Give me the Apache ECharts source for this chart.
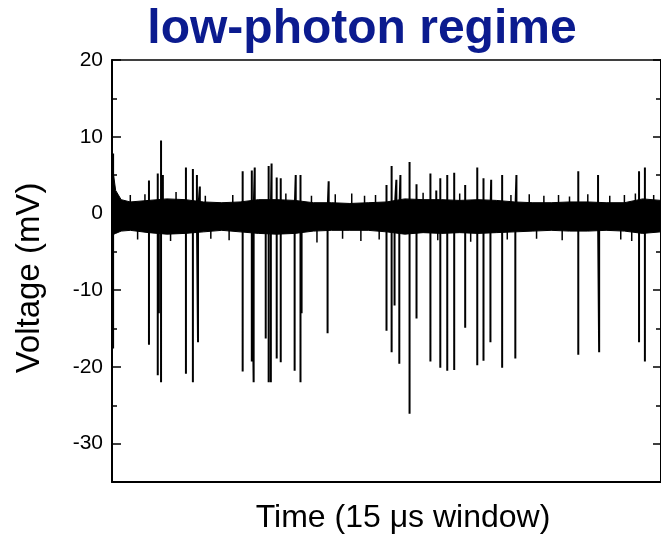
<!DOCTYPE html>
<html>
<head>
<meta charset="utf-8">
<script src="https://cdn.jsdelivr.net/npm/echarts@6/dist/echarts.min.js"></script>
<style>
html,body{margin:0;padding:0;background:#fff;}
#chart{width:661px;height:535px;}
</style>
</head>
<body>
<div id="chart"></div>
<script>
// ---- data (time in µs, voltage in mV) ----
const titleText = 'low-photon regime';
const xLabel = 'Time (15 \u03bcs window)';
const yLabel = 'Voltage (mV)';
const yMajorTicks = [-30, -20, -10, 0, 10, 20];
const yMinorTicks = [-25, -15, -5, 5, 15];

// noise band envelope
const envT  = [0, 0.1, 0.25, 0.5, 1.0, 1.5, 2.0, 2.5, 3.0, 3.5, 4.0, 4.5, 5.0, 5.5, 6.0, 6.5, 7.0, 7.5, 8.0, 8.5, 9.0, 9.5, 10.0, 10.5, 11.0, 11.5, 12.0, 12.5, 13.0, 13.5, 14.0, 14.5, 15.0];
const envUp = [6.5, 3.0, 1.8, 1.5, 1.7, 1.9, 1.8, 1.5, 1.4, 1.5, 1.8, 1.8, 1.7, 1.4, 1.4, 1.3, 1.4, 1.5, 1.9, 1.8, 1.8, 1.7, 1.8, 1.7, 1.5, 1.4, 1.4, 1.5, 1.5, 1.4, 1.4, 1.9, 1.7];
const envLo = [-2.8, -2.6, -2.3, -2.2, -2.5, -2.7, -2.6, -2.4, -2.2, -2.4, -2.6, -2.7, -2.6, -2.3, -2.2, -2.2, -2.2, -2.4, -2.7, -2.5, -2.6, -2.5, -2.6, -2.5, -2.4, -2.3, -2.2, -2.3, -2.3, -2.2, -2.3, -2.6, -2.4];

// small blips on the band edges
const blipT = [0.5, 0.9, 1.75, 2.55, 3.3, 4.75, 5.45, 6.1, 6.55, 6.9, 7.2, 8.5, 9.5, 10.9, 11.4, 11.8, 12.2, 12.5, 13.0, 13.6, 14.0, 14.3, 14.8];
const blipV = [2.4, 2.5, 2.8, 2.3, 2.4, 2.6, 2.3, 2.5, 2.6, 2.3, 2.4, 2.7, 2.6, 2.4, 2.5, 2.3, 2.4, 2.2, 2.5, 2.3, 2.4, 2.6, 2.4];
const blipLoT = [0.7, 1.6, 2.7, 3.2, 5.6, 6.3, 6.8, 7.3, 8.9, 9.8, 10.8, 11.6, 12.3, 13.9, 14.2];
const blipLoV = [-3.4, -3.6, -3.3, -3.5, -3.8, -3.3, -3.6, -3.4, -3.5, -3.7, -3.4, -3.3, -3.5, -3.4, -3.6];

// positive spikes
const posT = [0.03, 1.01, 1.25, 1.34, 1.39, 2.02, 2.21, 2.32, 2.40, 3.57, 3.82, 3.90, 4.28, 4.36, 4.50, 4.61, 5.02, 5.15, 5.92, 7.50, 7.64, 7.77, 7.88, 8.13, 8.32, 8.70, 8.86, 8.97, 9.16, 9.35, 9.65, 9.98, 10.15, 10.36, 10.66, 11.05, 12.74, 13.28, 14.40, 14.56];
const posV = [7.8, 4.3, 5.2, 9.5, 5.0, 6.0, 5.8, 5.0, 3.5, 5.5, 5.6, 6.0, 6.2, 6.5, 4.7, 4.6, 5.0, 5.0, 4.2, 3.7, 6.2, 4.4, 5.0, 6.7, 3.8, 5.2, 3.0, 4.6, 5.0, 5.3, 3.7, 6.0, 4.6, 4.4, 5.0, 5.0, 5.5, 5.0, 5.5, 6.0];
// negative spikes
const negT = [0.03, 1.01, 1.25, 1.28, 1.34, 2.02, 2.21, 2.35, 3.57, 3.82, 3.87, 4.20, 4.28, 4.34, 4.50, 4.61, 4.99, 5.15, 5.18, 5.89, 7.50, 7.64, 7.72, 7.85, 8.13, 8.32, 8.70, 8.97, 9.16, 9.35, 9.65, 9.98, 10.15, 10.34, 10.66, 11.02, 12.74, 13.31, 14.40, 14.56];
const negV = [-17.6, -17.1, -21.1, -13.0, -22.0, -20.9, -22.0, -16.8, -20.6, -19.3, -22.0, -16.3, -22.0, -22.0, -18.9, -19.4, -20.5, -22.0, -13.0, -15.6, -15.3, -18.1, -12.0, -19.6, -26.1, -13.7, -19.3, -20.1, -20.5, -20.4, -14.9, -19.8, -19.2, -16.8, -20.1, -18.9, -18.4, -18.1, -16.8, -19.3];

// ---- build series data ----
function toSpikes(tArr, vArr, out) {
  tArr.forEach((t, i) => { out.push([t, 0]); out.push([t, vArr[i]]); out.push([t, 0]); });
}
const bigPairs = [];
posT.forEach((t, i) => bigPairs.push([t, posV[i]]));
negT.forEach((t, i) => bigPairs.push([t, negV[i]]));
bigPairs.sort((a, b) => a[0] - b[0]);
const spikeLine = [];
toSpikes(bigPairs.map(p => p[0]), bigPairs.map(p => p[1]), spikeLine);

const smallPairs = [];
blipT.forEach((t, i) => smallPairs.push([t, blipV[i]]));
blipLoT.forEach((t, i) => smallPairs.push([t, blipLoV[i]]));
smallPairs.sort((a, b) => a[0] - b[0]);
const blipLine = [];
toSpikes(smallPairs.map(p => p[0]), smallPairs.map(p => p[1]), blipLine);

const FONT = '"Liberation Sans", Arial, sans-serif';
const chart = echarts.init(document.getElementById('chart'), null, {renderer: 'canvas'});

const yBase = {type: 'value', min: -35, max: 20, splitLine: {show: false}, axisLabel: {show: false}, axisLine: {show: false, onZero: false}};

chart.setOption({
  animation: false,
  backgroundColor: '#fff',
  grid: {left: 112, top: 60, right: -2, bottom: 53, containLabel: false},
  xAxis: [
    {type: 'value', min: 0, max: 15, position: 'bottom',
     axisLine: {show: true, onZero: false, lineStyle: {color: '#000', width: 2}}, axisTick: {show: false}, axisLabel: {show: false}, splitLine: {show: false}},
    {type: 'value', min: 0, max: 15, position: 'top',
     axisLine: {show: true, onZero: false, lineStyle: {color: '#000', width: 1.5}}, axisTick: {show: false}, axisLabel: {show: false}, splitLine: {show: false}}
  ],
  yAxis: [
    Object.assign({}, yBase, {position: 'left',
      axisLine: {show: true, onZero: false, lineStyle: {color: '#000', width: 2}},
      axisTick: {show: true, inside: true, length: 9, customValues: yMajorTicks, lineStyle: {color: '#000', width: 1.5}},
      axisLabel: {show: true, customValues: yMajorTicks, margin: 9, color: '#000', fontSize: 21, fontFamily: FONT}}),
    Object.assign({}, yBase, {position: 'left',
      axisTick: {show: true, inside: true, length: 5, customValues: yMinorTicks, lineStyle: {color: '#000', width: 1.5}}}),
    Object.assign({}, yBase, {position: 'right',
      axisLine: {show: true, onZero: false, lineStyle: {color: '#000', width: 2}},
      axisTick: {show: true, inside: true, length: 8, customValues: yMajorTicks, lineStyle: {color: '#000', width: 1.5}}}),
    Object.assign({}, yBase, {position: 'right',
      axisTick: {show: true, inside: true, length: 5, customValues: yMinorTicks, lineStyle: {color: '#000', width: 1.5}}})
  ],
  graphic: [
    {type: 'text', x: 362, y: 6, style: {text: titleText, fill: '#0b1b8f', font: 'bold 48px ' + FONT, textAlign: 'center', textVerticalAlign: 'top'}},
    {type: 'text', x: 403, y: 502, style: {text: xLabel, fill: '#000', font: '32px ' + FONT, textAlign: 'center', textVerticalAlign: 'top'}},
    {type: 'text', x: 30, y: 278, rotation: Math.PI / 2, style: {text: yLabel, fill: '#000', font: '33px ' + FONT, textAlign: 'center', textVerticalAlign: 'middle'}}
  ],
  series: [
    {
      type: 'custom', xAxisIndex: 0, yAxisIndex: 0, clip: true,
      data: [[0]],
      renderItem: function (params, api) {
        const pts = [];
        for (let i = 0; i < envT.length; i++) pts.push(api.coord([envT[i], envUp[i]]));
        for (let i = envT.length - 1; i >= 0; i--) pts.push(api.coord([envT[i], envLo[i]]));
        return {type: 'polygon', shape: {points: pts}, style: {fill: '#000', stroke: '#000', lineWidth: 1}};
      }
    },
    {
      type: 'line', xAxisIndex: 0, yAxisIndex: 0, data: blipLine, symbol: 'none',
      lineStyle: {color: '#000', width: 1.5}, clip: true
    },
    {
      type: 'line', xAxisIndex: 0, yAxisIndex: 0, data: spikeLine, symbol: 'none',
      lineStyle: {color: '#000', width: 2}, clip: true
    }
  ]
});
</script>
</body>
</html>
